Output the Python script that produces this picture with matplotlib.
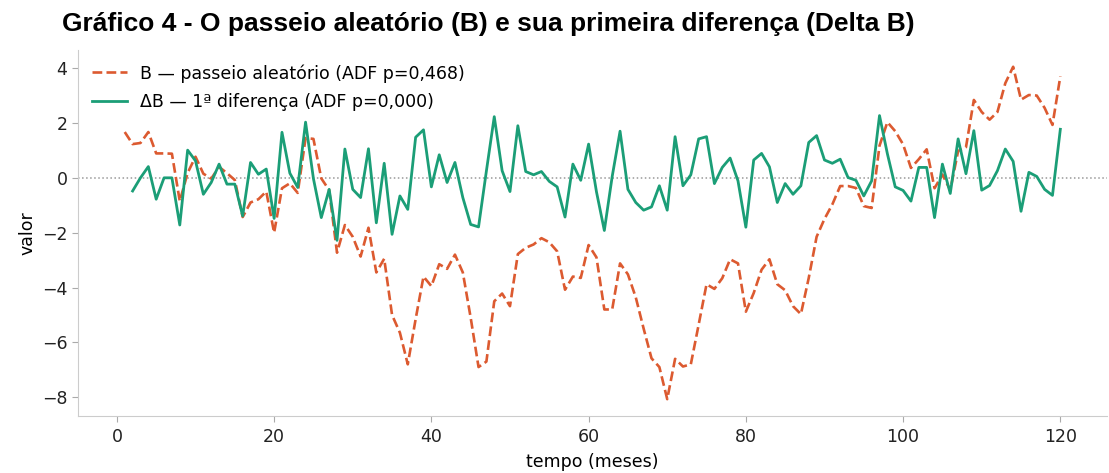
import matplotlib.pyplot as plt
import numpy as np

# Série em nível (passeio aleatório), meses 1..120
meses = np.arange(1, 121)
B = [1.67, 1.23, 1.27, 1.67, 0.89, 0.89, 0.88, -0.85, 0.18, 0.77,
     0.15, -0.03, 0.40, 0.17, -0.08, -1.43, -0.90, -0.78, -0.50, -2.00,
     -0.38, -0.20, -0.55, 1.45, 1.42, -0.02, -0.45, -2.73, -1.72, -2.15,
     -2.87, -1.82, -3.45, -2.95, -5.00, -5.65, -6.80, -5.15, -3.60, -3.95,
     -3.15, -3.32, -2.80, -3.45, -5.10, -6.90, -6.70, -4.50, -4.22, -4.68,
     -2.78, -2.55, -2.43, -2.20, -2.35, -2.68, -4.08, -3.60, -3.65, -2.45,
     -2.90, -4.80, -4.80, -3.12, -3.52, -4.36, -5.50, -6.58, -6.90, -8.07,
     -6.60, -6.88, -6.80, -5.35, -3.88, -4.05, -3.66, -2.97, -3.12, -4.88,
     -4.20, -3.35, -2.97, -3.88, -4.10, -4.68, -4.97, -3.65, -2.15, -1.50,
     -0.97, -0.30, -0.30, -0.37, -1.03, -1.10, 1.17, 2.03, 1.70, 1.22,
     0.36, 0.68, 1.04, -0.38, 0.12, -0.45, 0.98, 1.12, 2.84, 2.40,
     2.12, 2.40, 3.45, 4.05, 2.85, 3.02, 3.00, 2.55, 1.93, 3.70]

# Primeira diferença, meses 2..120
meses_d = np.arange(2, 121)
dB = [-0.48, 0.00, 0.41, -0.78, 0.00, 0.00, -1.72, 1.01, 0.62,
      -0.60, -0.17, 0.50, -0.23, -0.23, -1.39, 0.56, 0.13, 0.32, -1.48,
      1.66, 0.17, -0.35, 2.03, -0.03, -1.45, -0.42, -2.28, 1.05, -0.42,
      -0.72, 1.06, -1.64, 0.53, -2.06, -0.66, -1.15, 1.48, 1.75, -0.33,
      0.84, -0.17, 0.56, -0.72, -1.70, -1.79, 0.25, 2.23, 0.26, -0.50,
      1.90, 0.23, 0.11, 0.23, -0.13, -0.33, -1.43, 0.50, -0.09, 1.23,
      -0.51, -1.92, 0.05, 1.70, -0.42, -0.90, -1.18, -1.06, -0.29, -1.18,
      1.50, -0.29, 0.11, 1.42, 1.50, -0.21, 0.38, 0.72, -0.11, -1.80,
      0.65, 0.89, 0.40, -0.90, -0.21, -0.60, -0.29, 1.29, 1.54, 0.65,
      0.53, 0.68, 0.01, -0.09, -0.66, -0.11, 2.27, 0.88, -0.33, -0.46,
      -0.85, 0.38, 0.38, -1.45, 0.50, -0.57, 1.42, 0.15, 1.72, -0.45,
      -0.28, 0.26, 1.05, 0.60, -1.22, 0.20, 0.05, -0.42, -0.64, 1.77]

label_B = 'B — passeio aleatório (ADF p=0,468)'
label_dB = 'ΔB — 1ª diferença (ADF p=0,000)'

fig = plt.figure(figsize=(11.09, 4.73), dpi=100)
ax = fig.add_axes([0.0703, 0.121, 0.928, 0.773])

ax.axhline(0, color='#999999', linestyle=':', linewidth=1.1, zorder=1)
ax.plot(meses, B, color='#dc5a30', linestyle='--', linewidth=1.9, label=label_B)
ax.plot(meses_d, dB, color='#1b9e77', linewidth=2.0, label=label_dB)

ax.set_xticks(np.arange(0, 121, 20))
ax.set_yticks(np.arange(-8, 5, 2))
ax.tick_params(labelsize=12.5, colors='#222222', length=4)
ax.tick_params(axis='x', pad=5)
ax.tick_params(axis='both', color='#aaaaaa')
for s in ['top', 'right']:
    ax.spines[s].set_visible(False)
for s in ['left', 'bottom']:
    ax.spines[s].set_color('#cccccc')

ax.set_xlabel('tempo (meses)', fontsize=12.5, labelpad=5)
ax.set_ylabel('valor', fontsize=12.5)

ax.legend(loc='upper left', frameon=False, fontsize=12.5, labelspacing=0.6,
          borderaxespad=0.4)

fig.text(0.056, 0.935, 'Gráfico 4 - O passeio aleatório (B) e sua primeira diferença (Delta B)',
         fontsize=19, fontweight='bold', family='Liberation Sans', ha='left', va='baseline')

fig.savefig('out.png', dpi=100)
